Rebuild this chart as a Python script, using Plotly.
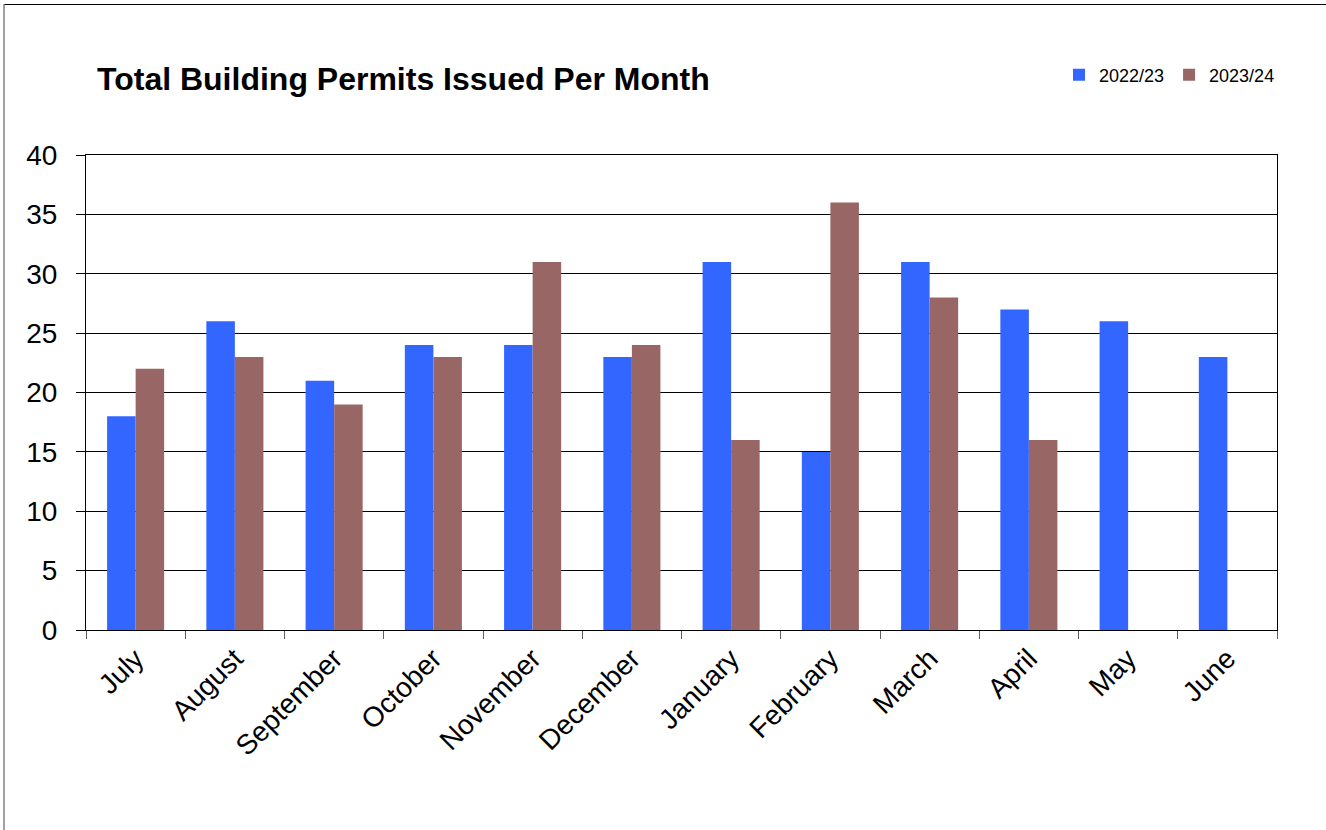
import plotly.graph_objects as go

months = ["July", "August", "September", "October", "November", "December",
          "January", "February", "March", "April", "May", "June"]
permits_2223 = [18, 26, 21, 24, 24, 23, 31, 15, 31, 27, 26, 23]
permits_2324 = [22, 23, 19, 23, 31, 24, 16, 36, 28, 16, None, None]
y_ticks = [0, 5, 10, 15, 20, 25, 30, 35, 40]

W, H = 1326, 830
L, R, T, B = 86, 49, 155, 200
pw, ph = W - L - R, H - T - B


def px(x):
    return (x - L) / pw


def py(y):
    return (H - B - y) / ph


fig = go.Figure()

fig.add_trace(
    go.Bar(x=months, y=permits_2223, name="2022/23", marker_color="#3366FF",
           marker_line_width=0)
)
fig.add_trace(
    go.Bar(x=months, y=permits_2324, name="2023/24", marker_color="#996666",
           marker_line_width=0)
)

# outer chart frame
fig.add_shape(type="line", xref="paper", yref="paper", x0=px(4), x1=px(1340),
              y0=py(4.5), y1=py(4.5), line=dict(color="#000000", width=1.2))
fig.add_shape(type="line", xref="paper", yref="paper", x0=px(4), x1=px(4),
              y0=py(4), y1=py(840), line=dict(color="#808080", width=1.5))

fig.add_annotation(text="<b>Total Building Permits Issued Per Month</b>",
                   xref="paper", yref="paper", x=px(95), y=py(79),
                   xanchor="left", yanchor="middle", showarrow=False,
                   font=dict(family="Liberation Sans", size=32, color="#000000"))

fig.update_layout(
    width=W, height=H,
    margin=dict(l=L, r=R, t=T, b=B),
    paper_bgcolor="white", plot_bgcolor="white",
    font=dict(family="Liberation Sans", color="#000000"),
    barmode="group", bargap=0.425, bargroupgap=0,
    showlegend=True,
    legend=dict(orientation="h", x=px(1280), xanchor="right", y=py(75),
                yanchor="middle", font=dict(size=18), itemwidth=30,
                tracegroupgap=0, bgcolor="rgba(0,0,0,0)"),
    xaxis=dict(tickson="boundaries", ticks="outside", ticklen=8,
               tickcolor="#606060", tickangle=-45, tickfont=dict(size=28),
               showline=True, linecolor="#000000", linewidth=1, mirror=True,
               showgrid=False),
    yaxis=dict(range=[0, 40], tickvals=y_ticks, ticks="outside", ticklen=9,
               tickcolor="#000000", tickfont=dict(size=28),
               showline=True, linecolor="#000000", linewidth=1, mirror=True,
               showgrid=True, gridcolor="#000000", gridwidth=1,
               zeroline=False, ticklabelstandoff=13),
)

fig.write_html("out.html", config={"displayModeBar": False},
               post_script="document.body.style.margin='0';")
